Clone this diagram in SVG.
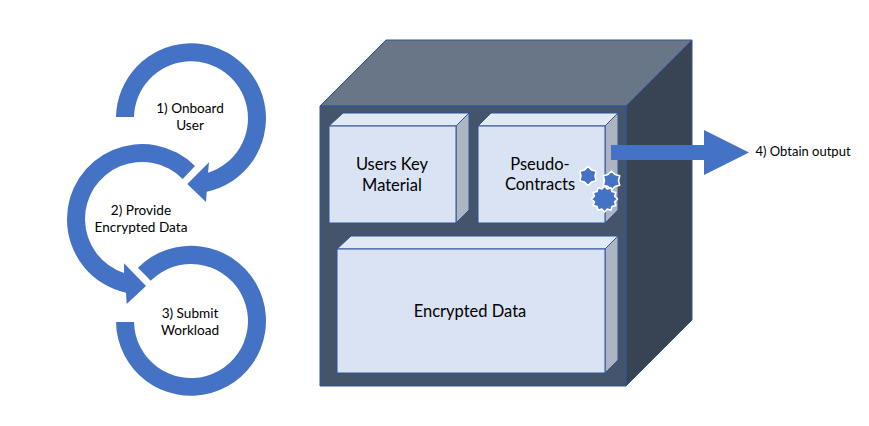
<svg xmlns="http://www.w3.org/2000/svg" width="869" height="426" viewBox="0 0 869 426">
<style>
text{font-family:"Lato","Open Sans","Liberation Sans",sans-serif;fill:#000;text-anchor:middle}
.s{font-size:13.6px}
.o{font-size:13px}
.l{font-size:16.5px}
.e{stroke:#2F5597;stroke-width:1;stroke-linejoin:round}
.f{fill:#DAE3F3}.t{fill:#E1E9F5}.r{fill:#AEB5C2}
.a{fill:#4472C4}
.g{fill:#4472C4;stroke:#fff;stroke-width:1.6;stroke-linejoin:round}
</style>
<defs>
<path id="gear-small" d="M0-9.500L3.500-6.060L8.200-4.750L7 0L8.200 4.750L3.500 6.060L0 9.500L-3.500 6.060L-8.200 4.750L-7 0L-8.200-4.750L-3.500-6.060Z"/>
<path id="gear-big" d="M0-13L2.720-10.140L6.500-11.260L7.420-7.420L11.260-6.500L10.140-2.720L13 0L10.140 2.720L11.260 6.500L7.420 7.420L6.500 11.260L2.720 10.140L0 13L-2.720 10.140L-6.500 11.260L-7.420 7.420L-11.260 6.500L-10.140 2.720L-13 0L-10.140-2.720L-11.260-6.500L-7.420-7.420L-6.500-11.260L-2.720-10.140Z"/>
</defs>
<rect width="869" height="426" fill="#fff"/>
<g id="connectors">
<path class="a" d="M116 117A75 75 0 1 1 206.700 191.700L206 202L187.300 184L209 162.300L208 172.700A57 57 0 1 0 134 117Z"/>
<path class="a" d="M195 166A75 75 0 0 0 67 220A75 75 0 0 0 126 292.700L126.700 304L146 286L124 263.300L124 273A57 57 0 0 1 85 220A57 57 0 0 1 182.700 179Z"/>
<path class="a" d="M116 322A75 75 0 1 0 138 267.700L150.700 280.700A57 57 0 1 1 134 322Z"/>
</g>
<g id="step1"><text class="s" x="190" y="113">1) Onboard</text><text class="s" x="190" y="130">User</text></g>
<g id="step2"><text class="s" x="141" y="215">2) Provide</text><text class="s" x="141" y="232">Encrypted Data</text></g>
<g id="step3"><text class="s" x="190" y="318">3) Submit</text><text class="s" x="190" y="335">Workload</text></g>
<g id="enclave">
<path class="e" fill="#697687" d="M320 106L386 40H692L626 106Z"/>
<path class="e" fill="#384454" d="M626 106L692 40V320L626 386Z"/>
<rect class="e" fill="#44546A" x="320" y="106" width="306" height="280"/>
</g>
<g id="users-key">
<path class="e t" d="M329 126L343 113H469L456 126Z"/>
<path class="e r" d="M456 126L469 113V210L456 223Z"/>
<rect class="e f" x="329" y="126" width="127" height="97"/>
<text class="l" x="392" y="170">Users Key</text><text class="l" x="392" y="191">Material</text>
</g>
<g id="pseudo-contracts">
<path class="e t" d="M478 126L491 113H618L605 126Z"/>
<path class="e r" d="M605 126L618 113V210L605 223Z"/>
<rect class="e f" x="478" y="126" width="127" height="97"/>
<text class="l" x="540" y="170">Pseudo-</text><text class="l" x="540" y="190">Contracts</text>
</g>
<g id="encrypted-data">
<path class="e t" d="M337 249L351 236H618L605 249Z"/>
<path class="e r" d="M605 249L618 236V360L605 373Z"/>
<rect class="e f" x="337" y="249" width="268" height="124"/>
<text class="l" x="470" y="317">Encrypted Data</text>
</g>
<g id="gears">
<use class="g" href="#gear-small" x="588" y="176"/>
<use class="g" href="#gear-small" x="611.500" y="180.500"/>
<use class="g" href="#gear-big" x="604.500" y="199"/>
</g>
<g id="output">
<path class="a" d="M611 145H704V130L749 152.500L704 175V160H611Z"/>
<text class="o" x="803" y="156">4) Obtain output</text>
</g>
</svg>
